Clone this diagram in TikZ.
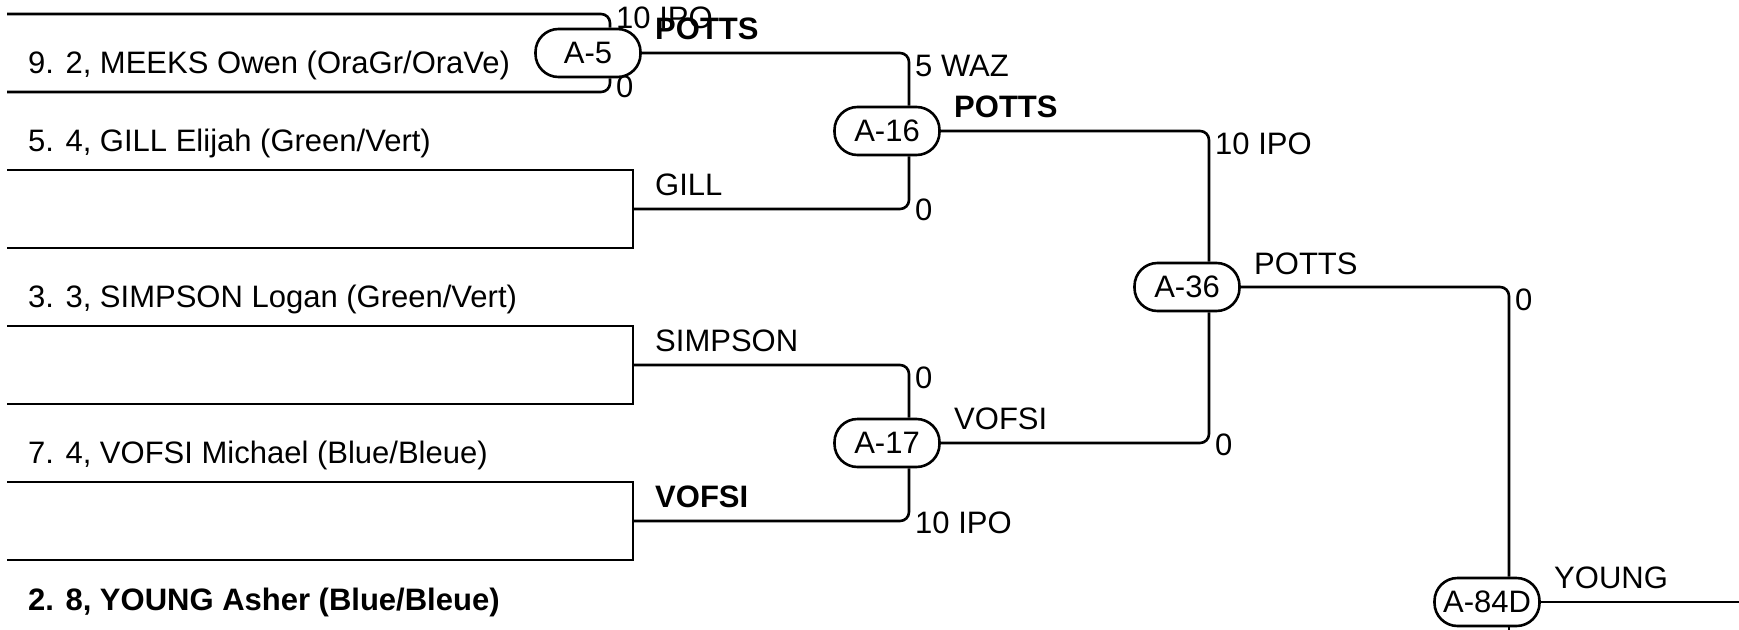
\documentclass[tikz,border=0pt]{standalone}
\usepackage{fontspec}
\setmainfont{Liberation Sans}
\newcommand\fsz{\fontsize{31}{36}\selectfont}
\tikzset{
  conn/.style={line width=2.6pt, rounded corners=9pt},
  byeline/.style={line width=2.6pt},
  match/.style={draw, line width=2.6pt, rounded corners=23pt, minimum width=105pt, minimum height=48pt, inner sep=0pt, font=\fsz},
  lbl/.style={anchor=base west, inner sep=0pt, font=\fsz},
  blbl/.style={anchor=base west, inner sep=0pt, font=\fsz\bfseries},
}
\begin{document}
\begin{tikzpicture}[x=1pt,y=-1pt]
\useasboundingbox (0,0) rectangle (1739,629);
% junction columns
\coordinate (j1) at (610,0);
\coordinate (j2) at (909,0);
\coordinate (j3) at (1209,0);
\coordinate (j4) at (1509,0);
% slot line starts
\coordinate (p0) at (7,14);
\coordinate (p1) at (7,92);
\coordinate (p2) at (7,170);
\coordinate (p3) at (7,248);
\coordinate (p4) at (7,326);
\coordinate (p5) at (7,404);
\coordinate (p6) at (7,482);
\coordinate (p7) at (7,560);
% bye bracket corners
\coordinate (b2) at (633,170);
\coordinate (b3) at (633,248);
\coordinate (m23) at (633,209);
\coordinate (b4) at (633,326);
\coordinate (b5) at (633,404);
\coordinate (m45) at (633,365);
\coordinate (b6) at (633,482);
\coordinate (b7) at (633,560);
\coordinate (m67) at (633,521);
\coordinate (endR) at (1745,602);
\coordinate (endB) at (1509,640);
% match nodes
\node[match] (A5) at (588,53) {A-5};
\node[match] (A16) at (887,131) {A-16};
\node[match] (A17) at (887,443) {A-17};
\node[match] (A36) at (1187,287) {A-36};
\node[match] (A84D) at (1487,602) {A-84D};
% connectors
\draw[conn] (p0) -| (A5.north -| j1);
\draw[conn] (p1) -| (A5.south -| j1);
\draw[byeline] (p2) -- (b2) -- (b3) -- (p3);
\draw[byeline] (p4) -- (b4) -- (b5) -- (p5);
\draw[byeline] (p6) -- (b6) -- (b7) -- (p7);
\draw[conn] (A5.east) -| (A16.north -| j2);
\draw[conn] (m23) -| (A16.south -| j2);
\draw[conn] (m45) -| (A17.north -| j2);
\draw[conn] (m67) -| (A17.south -| j2);
\draw[conn] (A16.east) -| (A36.north -| j3);
\draw[conn] (A17.east) -| (A36.south -| j3);
\draw[conn] (A36.east) -| (A84D.north -| j4);
\draw[conn] (A84D.east) -- (endR);
\draw[conn] (A84D.south -| j4) -- (endB);
% player names
\node[lbl] (n1) at (28,73) {9. 2, MEEKS Owen (OraGr/OraVe)};
\node[lbl] (n2) at (28,151) {5. 4, GILL Elijah (Green/Vert)};
\node[lbl] (n4) at (28,307) {3. 3, SIMPSON Logan (Green/Vert)};
\node[lbl] (n6) at (28,463) {7. 4, VOFSI Michael (Blue/Bleue)};
\node[blbl] (n8) at (28,610) {2. 8, YOUNG Asher (Blue/Bleue)};
% winners
\node[blbl] (w5) at (655,39) {POTTS};
\node[lbl] (wg) at (655,195) {GILL};
\node[lbl] (ws) at (655,351) {SIMPSON};
\node[blbl] (wv) at (655,507) {VOFSI};
\node[blbl] (w16) at (954,117) {POTTS};
\node[lbl] (w17) at (954,429) {VOFSI};
\node[lbl] (w36) at (1254,274) {POTTS};
\node[lbl] (w84) at (1554,588) {YOUNG};
% scores
\node[lbl] (s5a) at (616,28) {10 IPO};
\node[lbl] (s5b) at (616,97) {0};
\node[lbl] (s16a) at (915,76) {5 WAZ};
\node[lbl] (s16b) at (915,220) {0};
\node[lbl] (s17a) at (915,388) {0};
\node[lbl] (s17b) at (915,533) {10 IPO};
\node[lbl] (s36a) at (1215,154) {10 IPO};
\node[lbl] (s36b) at (1215,455) {0};
\node[lbl] (s84a) at (1515,310) {0};
\end{tikzpicture}
\end{document}
